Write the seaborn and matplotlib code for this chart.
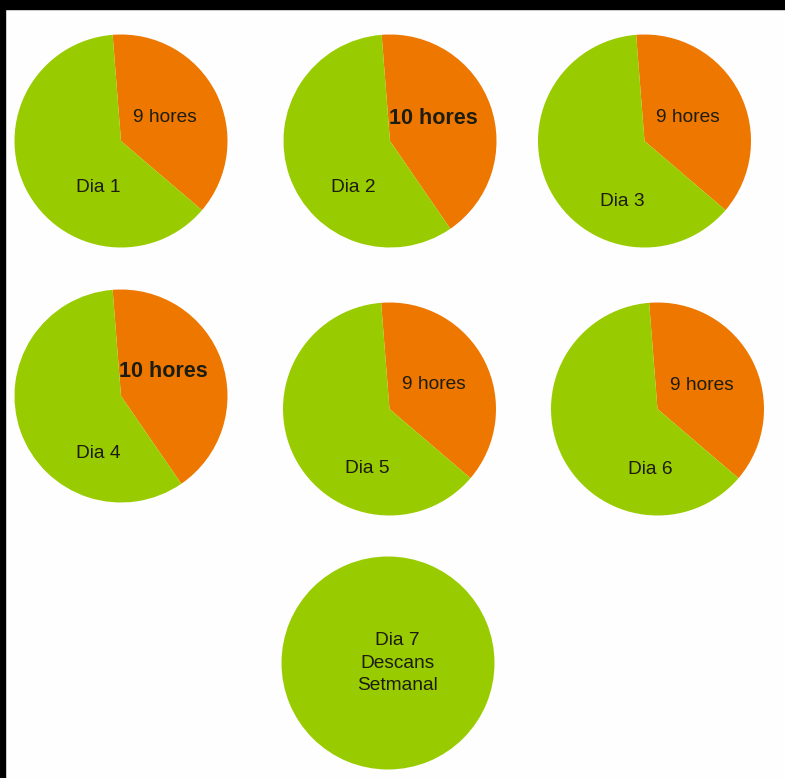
import matplotlib
matplotlib.use("Agg")
import matplotlib.pyplot as plt
from matplotlib.patches import Rectangle
import seaborn as sns

# Weekly schedule: hours worked each day out of a 24-hour day
days = ["Dia 1", "Dia 2", "Dia 3", "Dia 4", "Dia 5", "Dia 6", "Dia 7"]
work_hours = [9, 10, 9, 10, 9, 9, 0]
hour_labels = ["9 hores", "10 hores", "9 hores", "10 hores", "9 hores", "9 hores", ""]
rest_note = ["Descans", "Setmanal"]
total_hours = 24

sns.set_theme(style="white")
plt.rcParams["font.family"] = ["Liberation Sans", "DejaVu Sans"]

W, H = 785, 778
work_color, free_color = sns.color_palette(["#EE7700", "#99CC00"])
text_color = "#1c1c10"

fig = plt.figure(figsize=(W / 100, H / 100), dpi=100, facecolor="#fefefe")
ax = fig.add_axes([0, 0, 1, 1])
ax.set_facecolor("#fefefe")

# pie centres (pixels from top-left) and label anchors
centers = [(121, 141), (390, 141), (644.5, 141),
           (121, 396), (389.5, 409), (657.5, 409),
           (388, 663)]
hour_pos = [(165, 117), (433, 118), (688, 117), (163, 371), (434, 384), (702, 385)]
day_pos = [(98, 187), (353, 187), (622, 201), (98, 453), (367, 468), (650, 469)]
radius = 106.5


def fy(y):
    return H - y


for i, day in enumerate(days):
    cx, cy = centers[i]
    ax.pie([work_hours[i], total_hours - work_hours[i]],
           colors=[work_color, free_color],
           center=(cx, fy(cy)), radius=radius,
           startangle=94.5, counterclock=False,
           wedgeprops=dict(linewidth=0))
    if work_hours[i] > 0:
        bold = work_hours[i] >= 10
        hx, hy = hour_pos[i]
        ax.text(hx, fy(hy), hour_labels[i], ha="center", va="center",
                fontsize=15.5 if bold else 13.8,
                fontweight="bold" if bold else "normal", color=text_color)
        dx, dy = day_pos[i]
        ax.text(dx, fy(dy), day, ha="center", va="center",
                fontsize=13.8, color=text_color)
    else:
        ax.text(cx + 9, fy(cy), "\n".join([day] + rest_note),
                ha="center", va="center", fontsize=13.8,
                linespacing=1.4, color=text_color)

ax.set_xlim(0, W)
ax.set_ylim(0, H)
ax.set_aspect("equal")
ax.axis("off")

# frame edges along the top and left
fig.add_artist(Rectangle((0, 1 - 9 / H), 1, 9 / H, transform=fig.transFigure,
                         color="black", zorder=10))
fig.add_artist(Rectangle((0, 0), 5 / W, 1, transform=fig.transFigure,
                         color="black", zorder=10))

fig.savefig("out.png", dpi=100, facecolor=fig.get_facecolor())
